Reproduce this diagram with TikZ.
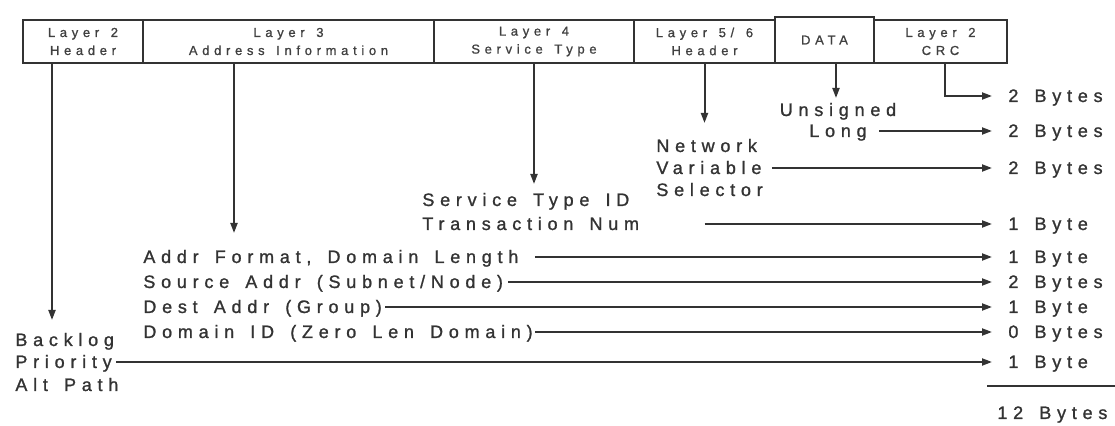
\documentclass[tikz,border=0pt]{standalone}
\usepackage{fontspec}
\newfontfamily\lblfont[LetterSpace=32,WordSpace=1.5,FakeBold=1.2]{Liberation Sans}
\newfontfamily\boxfont[LetterSpace=36,WordSpace=1.4,FakeBold=1]{Liberation Sans}
\usetikzlibrary{arrows.meta}
\tikzset{
  pkt/.style={draw=black!80, line width=1pt, align=center, inner sep=0pt,
    minimum height=21.5pt, text=black!75, font={\boxfont\fontsize{6.5}{9}\selectfont}},
  lbl/.style={inner sep=0pt, text=black!80, text height=6.5pt, text depth=0.5pt,
    font={\lblfont\fontsize{9}{11}\selectfont}},
  arr/.style={draw=black!80, line width=1pt, -{Triangle[length=5pt,width=3.5pt]}},
  toby/.style={arr, shorten >=8pt},
}
\begin{document}
\begin{tikzpicture}[x=0.5pt,y=-0.5pt]
\useasboundingbox (0,0) rectangle (1115,426);

% packet frame
\node[pkt, minimum width=60pt] (l2h) at (83,41.5) {Layer 2\\Header};
\node[pkt, minimum width=145.5pt] (l3) at (288.5,41.5) {Layer 3\\Address Information};
\node[pkt, minimum width=100pt] (l4) at (534,41.5) {Layer 4\\Service Type};
\node[pkt, minimum width=70.5pt] (l56) at (704.5,41.5) {Layer 5/ 6\\Header};
\node[pkt, minimum width=49.5pt, minimum height=23pt] (data) at (824.5,40) {DATA};
\node[pkt, minimum width=66.5pt] (crc) at (940.5,41.5) {Layer 2\\CRC};

% byte counts
\node[lbl, anchor=west] (b1) at (1008,96) {2 Bytes};
\node[lbl, anchor=west] (b2) at (1008,131) {2 Bytes};
\node[lbl, anchor=west] (b3) at (1008,168) {2 Bytes};
\node[lbl, anchor=west] (b4) at (1008,224) {1 Byte};
\node[lbl, anchor=west] (b5) at (1008,257) {1 Byte};
\node[lbl, anchor=west] (b6) at (1008,282) {2 Bytes};
\node[lbl, anchor=west] (b7) at (1008,307) {1 Byte};
\node[lbl, anchor=west] (b8) at (1008,332) {0 Bytes};
\node[lbl, anchor=west] (b9) at (1008,362) {1 Byte};
\coordinate (sumL) at (987,386);
\coordinate (sumR) at (1115,386);
\draw[draw=black!80, line width=1pt] (sumL) -- (sumR);
\node[lbl, anchor=west] (tot) at (997,413) {12 Bytes};

% fields
\node[lbl] (uns) at (838,110) {Unsigned};
\node[lbl] (lng) at (838,131) {Long};
\node[lbl, anchor=west] (nw) at (656,146) {Network};
\node[lbl, anchor=west] (var) at (656,168) {Variable};
\node[lbl, anchor=west] (sel) at (656,190) {Selector};
\node[lbl, anchor=west] (sid) at (422,200) {Service Type ID};
\node[lbl, anchor=west] (tn) at (422,224) {Transaction Num};
\node[lbl, anchor=west] (af) at (143,257) {Addr Format, Domain Length};
\node[lbl, anchor=west] (sa) at (143,282) {Source Addr (Subnet/Node)};
\node[lbl, anchor=west] (da) at (143,307) {Dest Addr (Group)};
\node[lbl, anchor=west] (di) at (143,332) {Domain ID (Zero Len Domain)};
\node[lbl, anchor=west] (bl) at (15,340) {Backlog};
\node[lbl, anchor=west] (pr) at (15,362) {Priority};
\node[lbl, anchor=west] (ap) at (15,385) {Alt Path};

% from the frame down
\coordinate (t2) at (52,320);
\coordinate (t3) at (234,233);
\coordinate (t4) at (534,184);
\coordinate (t56) at (704.5,123);
\coordinate (tda) at (836,98);
\coordinate (kc) at (945,96);
\draw[arr] (l2h.south -| t2) -- (t2);
\draw[arr] (l3.south -| t3) -- (t3);
\draw[arr] (l4.south) -- (t4);
\draw[arr] (l56.south) -- (t56);
\draw[arr] (data.south -| tda) -- (tda);
\draw[toby] (crc.south -| kc) -- (kc) -- (b1.west);

% across to the byte counts
\draw[toby] ([xshift=6pt]b2.west -| lng.east) -- (b2.west);
\draw[toby] ([xshift=5pt]b3.west -| var.east) -- (b3.west);
\draw[toby] (b4.west -| l56.south) -- (b4.west);
\draw[toby] ([xshift=8pt]b5.west -| af.east) -- (b5.west);
\draw[toby] ([xshift=2.5pt]b6.west -| sa.east) -- (b6.west);
\draw[toby] ([xshift=1.5pt]b7.west -| da.east) -- (b7.west);
\draw[toby] ([xshift=1pt]b8.west -| di.east) -- (b8.west);
\draw[toby] ([xshift=2pt]b9.west -| pr.east) -- (b9.west);
\end{tikzpicture}
\end{document}
